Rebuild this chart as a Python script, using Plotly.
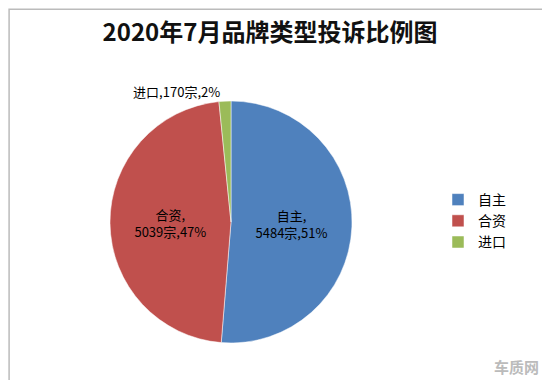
import plotly.graph_objects as go

labels = ["自主", "合资", "进口"]
counts = [5484, 5039, 170]
pcts = ["51%", "47%", "2%"]
colors = ["#4F81BD", "#C0504D", "#9BBB59"]
texts = ["自主,<br>5484宗,51%", "合资,<br>5039宗,47%", "进口,170宗,2%"]

W, H = 550, 380
cx, cy, r = 223, 214, 121

fig = go.Figure(go.Pie(
    labels=labels, values=counts, text=texts, textinfo="text",
    sort=False, direction="clockwise", rotation=0,
    marker=dict(colors=colors, line=dict(color="white", width=0.5)),
    textposition=["inside", "inside", "outside"],
    insidetextorientation="horizontal",
    textfont=dict(family="Noto Sans CJK SC", size=13, color="black"),
    domain=dict(x=[(cx - r) / W, (cx + r) / W], y=[(H - cy - r) / H, (H - cy + r) / H]),
    hoverinfo="label+value+percent",
))

fig.update_layout(
    width=W, height=H,
    margin=dict(l=0, r=0, t=0, b=0),
    paper_bgcolor="white",
    font=dict(family="Noto Sans CJK SC", color="black"),
    title=dict(text="<b>2020年7月品牌类型投诉比例图</b>", x=262 / W, xanchor="center",
               y=1 - 25 / H, yanchor="middle",
               font=dict(size=24, family="Noto Sans CJK SC", color="#111")),
    legend=dict(x=430 / W, y=1 - 176 / H, xanchor="left", yanchor="top",
                font=dict(size=14), itemwidth=30),
    showlegend=True,
    shapes=[dict(type="rect", xref="paper", yref="paper", x0=0.002, y0=0.003, x1=0.998, y1=0.997,
                 line=dict(color="#BBBBBB", width=1.5))],
    annotations=[dict(text="<b>车质网</b>", x=508 / W, y=1 - 358 / H, xref="paper", yref="paper",
                      showarrow=False, font=dict(size=15, color="#BBBBBB"),
                      xanchor="center", yanchor="middle")],
)

fig.write_html("out.html")
